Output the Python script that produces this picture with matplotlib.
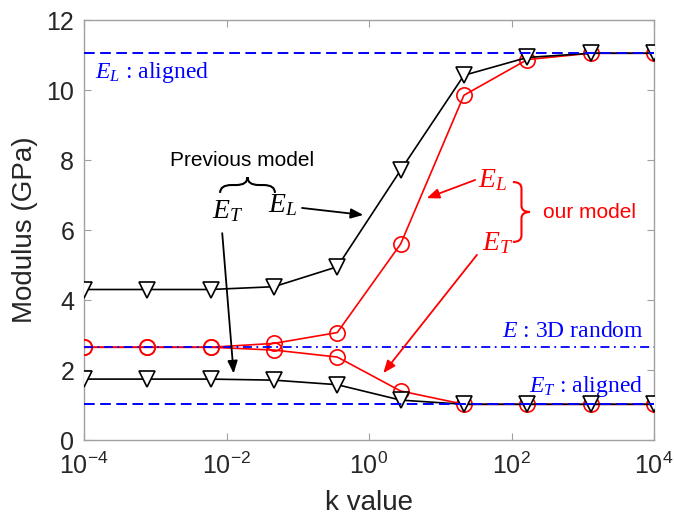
import numpy as np
import matplotlib
matplotlib.use("Agg")
import matplotlib.pyplot as plt
from matplotlib.path import Path
from matplotlib.patches import PathPatch

plt.rcParams['font.family'] = ['Liberation Sans', 'DejaVu Sans']
plt.rcParams['mathtext.fontset'] = 'custom'
plt.rcParams['mathtext.rm'] = 'Liberation Serif'
plt.rcParams['mathtext.it'] = 'Liberation Serif:italic'
plt.rcParams['axes.unicode_minus'] = False

# ---- data ----
k_values = [1e-4, 7.74e-4, 5.99e-3, 4.64e-2, 0.359, 2.78, 21.5, 167.0, 1292.0, 1e4]
prev_EL = [4.30, 4.30, 4.30, 4.38, 4.95, 7.71, 10.42, 10.93, 11.05, 11.05]
prev_ET = [1.74, 1.74, 1.74, 1.71, 1.58, 1.14, 1.02, 1.02, 1.02, 1.02]
our_EL = [2.65, 2.65, 2.65, 2.76, 3.07, 5.60, 9.85, 10.87, 11.05, 11.05]
our_ET = [2.65, 2.65, 2.65, 2.57, 2.37, 1.40, 1.02, 1.02, 1.02, 1.02]
EL_aligned = 11.05
ET_aligned = 1.03
E_random = 2.66
x_ticks = [1e-4, 1e-2, 1e0, 1e2, 1e4]
y_ticks = [0, 2, 4, 6, 8, 10, 12]

fig = plt.figure(figsize=(6.74, 5.29), dpi=100)
ax = fig.add_axes([84/674, 89/529, 570/674, 420/529])

gray = '#a0a0a0'
txt = '#262626'

ax.plot(k_values, our_EL, color='red', lw=1.2, marker='o', ms=11,
        mfc='none', mec='red', mew=1.2, zorder=3)
ax.plot(k_values, our_ET, color='red', lw=1.2, marker='o', ms=11,
        mfc='none', mec='red', mew=1.2, zorder=3)
ax.plot(k_values, prev_EL, color='black', lw=1.2, marker='v', ms=12,
        mfc='white', mec='black', mew=1.2, zorder=4)
ax.plot(k_values, prev_ET, color='black', lw=1.2, marker='v', ms=12,
        mfc='white', mec='black', mew=1.2, zorder=4)

ax.axhline(EL_aligned, color='blue', lw=1.4, ls=(0, (5.5, 2.8)), zorder=5)
ax.axhline(ET_aligned, color='blue', lw=1.4, ls=(0, (5.5, 2.8)), zorder=5)
ax.axhline(E_random, color='blue', lw=1.3, ls=(0, (5, 2.5, 1, 2.5)), zorder=5)

ax.set_xscale('log')
ax.set_xlim(1e-4, 1e4)
ax.set_ylim(0, 12)
ax.set_xticks(x_ticks)
ax.set_yticks(y_ticks)
ax.minorticks_off()
ax.tick_params(which='both', direction='in', top=True, right=True,
               length=5, color=gray, labelcolor=txt, labelsize=18)
ax.tick_params(axis='x', pad=9)
ax.tick_params(axis='y', pad=7)
for s in ax.spines.values():
    s.set_color(gray)
    s.set_linewidth(1.0)

ax.set_xlabel('k value', fontsize=20, color=txt, labelpad=8)
ax.set_ylabel('Modulus (GPa)', fontsize=20, color=txt, labelpad=6)


def ax_xy(logx, y):
    return ((logx + 4) / 8.0, y / 12.0)


def brace_h(x0, x1, y0, h, r, color):
    xm = (x0 + x1) / 2
    ym = y0 + h / 2
    verts = [(x0, y0), (x0, ym), (x0 + r, ym), (xm - r, ym),
             (xm, ym), (xm, y0 + h), (xm, ym), (xm + r, ym),
             (x1 - r, ym), (x1, ym), (x1, y0)]
    codes = [Path.MOVETO, Path.CURVE3, Path.CURVE3, Path.LINETO,
             Path.CURVE3, Path.CURVE3, Path.CURVE3, Path.CURVE3,
             Path.LINETO, Path.CURVE3, Path.CURVE3]
    ax.add_patch(PathPatch(Path(verts, codes), fc='none', ec=color, lw=1.5,
                           transform=ax.transAxes, clip_on=False, zorder=6))


def brace_v(y0, y1, x0, w, r, color):
    ym = (y0 + y1) / 2
    xm = x0 + w / 2
    verts = [(x0, y0), (xm, y0), (xm, y0 + r), (xm, ym - r),
             (xm, ym), (x0 + w, ym), (xm, ym), (xm, ym + r),
             (xm, y1 - r), (xm, y1), (x0, y1)]
    codes = [Path.MOVETO, Path.CURVE3, Path.CURVE3, Path.LINETO,
             Path.CURVE3, Path.CURVE3, Path.CURVE3, Path.CURVE3,
             Path.LINETO, Path.CURVE3, Path.CURVE3]
    ax.add_patch(PathPatch(Path(verts, codes), fc='none', ec=color, lw=1.5,
                           transform=ax.transAxes, clip_on=False, zorder=6))


# blue labels
ax.text(*ax_xy(-3.85, 10.34), r'$E_L$ : aligned', transform=ax.transAxes,
        color='blue', fontsize=17, family='Liberation Serif', ha='left', va='baseline')
ax.text(*ax_xy(3.85, 2.94), r'$E$ : 3D random', transform=ax.transAxes,
        color='blue', fontsize=17, family='Liberation Serif', ha='right', va='baseline')
ax.text(*ax_xy(3.85, 1.37), r'$E_T$ : aligned', transform=ax.transAxes,
        color='blue', fontsize=17, family='Liberation Serif', ha='right', va='baseline')

# previous model annotations
ax.text(*ax_xy(-1.78, 8.0), 'Previous model', transform=ax.transAxes,
        color='black', fontsize=15, ha='center', va='center')
x0, y0 = ax_xy(-2.09, 7.06)
x1, _ = ax_xy(-1.32, 7.06)
brace_h(x0, x1, y0, 0.45 / 12, 0.02, 'black')
ax.text(*ax_xy(-2.20, 6.34), r'$E_T$', transform=ax.transAxes,
        color='black', fontsize=20, ha='left', va='baseline')
ax.text(*ax_xy(-1.42, 6.51), r'$E_L$', transform=ax.transAxes,
        color='black', fontsize=20, ha='left', va='baseline')

arrow_kw = dict(arrowstyle='-|>,head_length=0.75,head_width=0.3', lw=1.3,
                shrinkA=0, shrinkB=0)
ax.annotate('', xy=ax_xy(-0.08, 6.43), xytext=ax_xy(-0.94, 6.63),
            xycoords='axes fraction', textcoords='axes fraction',
            arrowprops=dict(color='black', **arrow_kw), zorder=6)
ax.annotate('', xy=ax_xy(-1.90, 1.90), xytext=ax_xy(-2.06, 5.91),
            xycoords='axes fraction', textcoords='axes fraction',
            arrowprops=dict(color='black', **arrow_kw), zorder=6)

# our model annotations
ax.text(*ax_xy(1.53, 7.23), r'$E_L$', transform=ax.transAxes,
        color='red', fontsize=20, ha='left', va='baseline')
ax.text(*ax_xy(1.586, 5.43), r'$E_T$', transform=ax.transAxes,
        color='red', fontsize=20, ha='left', va='baseline')
ax.annotate('', xy=ax_xy(0.81, 6.91), xytext=ax_xy(1.49, 7.43),
            xycoords='axes fraction', textcoords='axes fraction',
            arrowprops=dict(color='red', **arrow_kw), zorder=6)
ax.annotate('', xy=ax_xy(0.20, 1.91), xytext=ax_xy(1.515, 5.29),
            xycoords='axes fraction', textcoords='axes fraction',
            arrowprops=dict(color='red', **arrow_kw), zorder=6)
bx0, by0 = ax_xy(2.02, 5.66)
bx1, by1 = ax_xy(2.26, 7.37)
brace_v(by0, by1, bx0, bx1 - bx0, 0.015, 'red')
ax.text(*ax_xy(2.44, 6.51), 'our model', transform=ax.transAxes,
        color='red', fontsize=15, ha='left', va='center')

fig.savefig('out.png', dpi=100)
